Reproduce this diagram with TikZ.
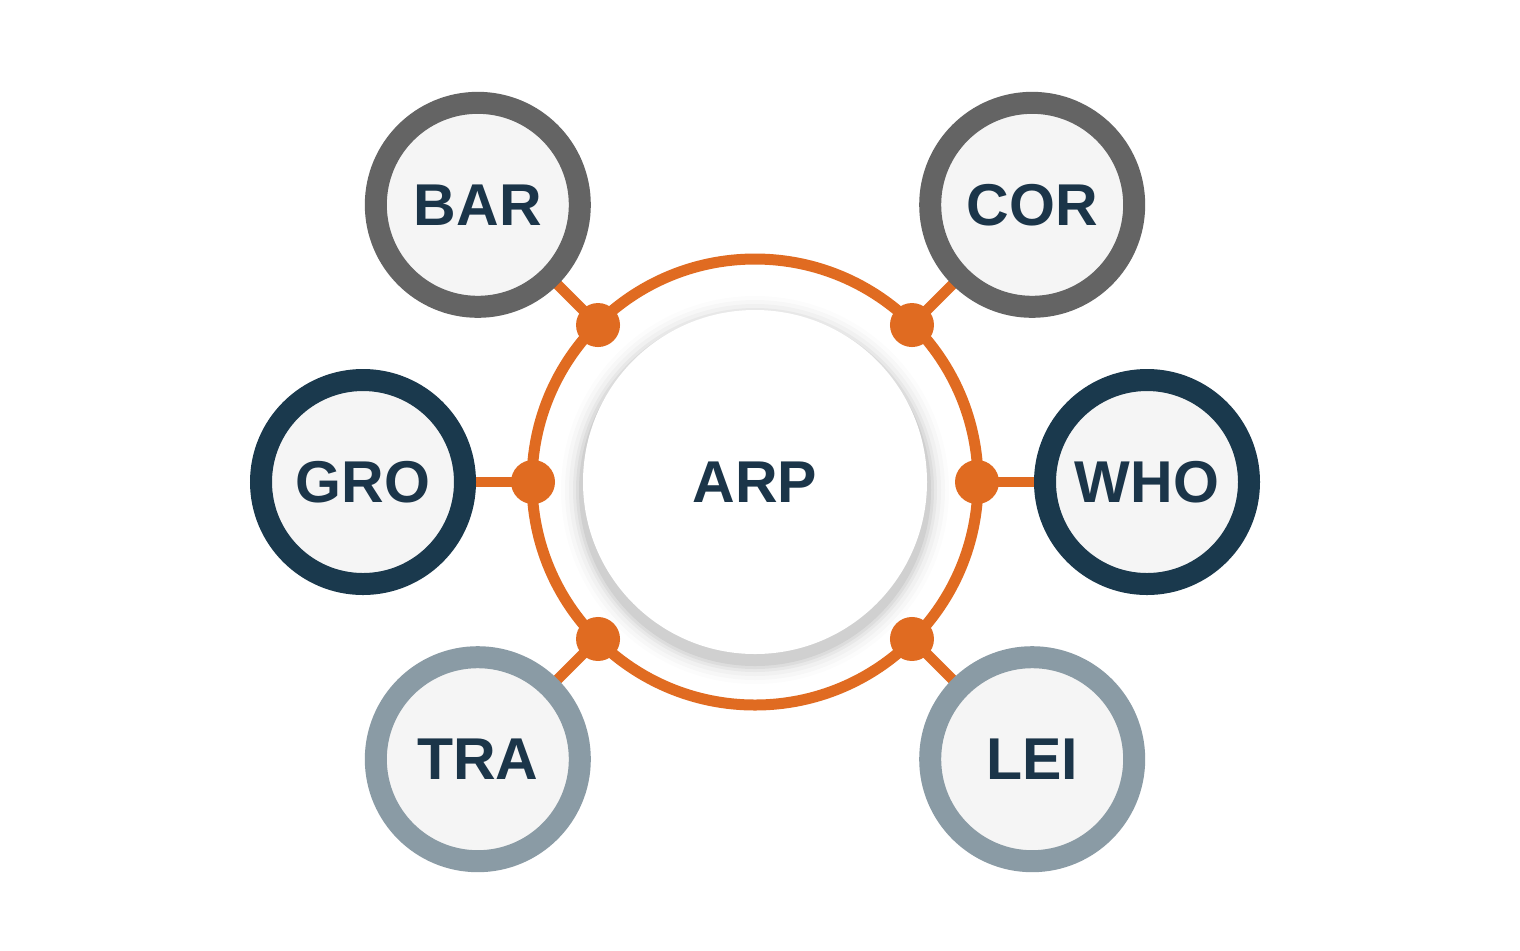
\documentclass[tikz,border=0pt]{standalone}
\usepackage{fontspec}
\setmainfont{Liberation Sans}
\usetikzlibrary{calc}
\definecolor{orng}{HTML}{E06B21}
\definecolor{dgray}{HTML}{646464}
\definecolor{navy}{HTML}{1A394D}
\definecolor{bgray}{HTML}{8A9BA5}
\definecolor{fillc}{HTML}{F5F5F5}
\definecolor{txt}{HTML}{1B3549}
\tikzset{
  sat/.style={circle, minimum size=204pt*0.5, inner sep=0pt, line width=11pt, fill=fillc,
    font=\fontsize{29.5}{30}\selectfont\bfseries, text=txt},
  link/.style={orng, line width=5.2pt},
  dotc/.style={circle, fill=orng, minimum size=22pt, inner sep=0pt},
}
\begin{document}
\begin{tikzpicture}[x=0.5pt,y=-0.5pt]
\useasboundingbox (0,0) rectangle (1520,950);
\fill[white] (0,0) rectangle (1520,950);
\coordinate (c) at (755,482);
% shadow
\foreach \r/\o in {194/0.012,190/0.018,186/0.025,182/0.035,179/0.045,176/0.06}{
  \fill[black,opacity=\o] ($(c)+(0,8)$) circle (\r);
}
% connectors
\foreach \a/\n in {135/bar,45/cor,180/gro,0/who,225/tra,315/lei}{
  \coordinate (d\n) at ($(c)+(\a:222 and -222)$);
  \coordinate (s\n) at ($(c)+(\a:392 and -392)$);
  \draw[link] (d\n) -- (s\n);
}
% ring
\draw[orng, line width=5.5pt] (c) circle (223);
\node[circle, fill=white, minimum size=344pt*0.5, inner sep=0pt,
  font=\fontsize{29.5}{30}\selectfont\bfseries, text=txt] (arp) at (c) {ARP};
% dots
\foreach \n in {bar,cor,gro,who,tra,lei}{
  \node[dotc] (dot\n) at (d\n) {};
}
% satellites
\node[sat, draw=dgray] (bar) at (sbar) {BAR};
\node[sat, draw=dgray] (cor) at (scor) {COR};
\node[sat, draw=navy] (gro) at (sgro) {GRO};
\node[sat, draw=navy] (who) at (swho) {WHO};
\node[sat, draw=bgray] (tra) at (stra) {TRA};
\node[sat, draw=bgray] (lei) at (slei) {LEI};
\end{tikzpicture}
\end{document}
